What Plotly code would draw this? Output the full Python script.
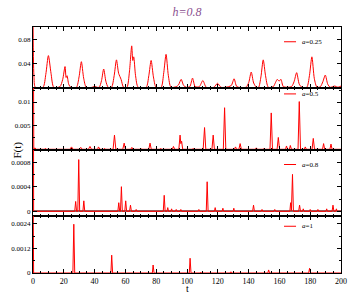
import plotly.graph_objects as go
from plotly.subplots import make_subplots

# a = 0.25
t_a025 = [0, 0.6, 1.5, 6.5, 8.3, 10, 11.7, 13.5, 17.5, 19.3, 20.8, 21.5, 22.1, 23.2, 24.5,
          28.2, 29.9, 31.4, 32.9, 34.6, 38.5, 40, 41.5, 43, 44.5, 45.9, 47.3, 48.8,
          51, 52.7, 54.2, 55.6, 57.2, 58.8, 61, 62.6, 64.1, 64.8, 65.4, 66.6, 68.3,
          73.5, 75.2, 76.7, 78.2, 79.9, 83.2, 84.9, 86.4, 87.9, 89.6,
          93, 94.5, 96.2, 97.8, 99.5, 101.8, 103.6, 105.3, 108, 110.3, 112.5,
          117.5, 119.8, 122, 125, 127, 128.8, 130.6, 132.4, 138.3, 140.1, 141.7, 143.3, 145.1,
          146.5, 148, 149.5, 151, 152.8, 156, 157.5, 158.6, 159.8, 161, 162.6,
          167.8, 169.5, 171.2, 172.9, 174.6, 177.8, 179.5, 181.1, 182.7, 184.4,
          186.6, 188.2, 189.8, 191.4, 193, 196, 198, 200]
f_a025 = [0.12, 0.02, 0.001, 0.001, 0.022, 0.053, 0.024, 0.001, 0.002, 0.014, 0.035, 0.017, 0.020, 0.006, 0.001,
          0.001, 0.018, 0.043, 0.016, 0.001, 0.001, 0.003, 0.001, 0.001, 0.012, 0.031, 0.011, 0.001,
          0.001, 0.020, 0.046, 0.024, 0.014, 0.001, 0.001, 0.026, 0.069, 0.045, 0.051, 0.020, 0.001,
          0.001, 0.020, 0.045, 0.018, 0.001, 0.001, 0.025, 0.055, 0.020, 0.001,
          0.002, 0.005, 0.014, 0.004, 0.001, 0.002, 0.016, 0.002, 0.002, 0.012, 0.001,
          0.001, 0.0075, 0.001, 0.001, 0.002, 0.004, 0.015, 0.002, 0.001, 0.009, 0.026, 0.008, 0.001,
          0.001, 0.018, 0.046, 0.020, 0.001, 0.002, 0.009, 0.014, 0.011, 0.014, 0.002,
          0.002, 0.010, 0.025, 0.006, 0.001, 0.001, 0.020, 0.051, 0.015, 0.001,
          0.002, 0.010, 0.021, 0.006, 0.001, 0.003, 0.001, 0.003]

# a = 0.5
t_a05 = [0, 0.5, 1.2, 2, 7.5, 8, 8.5, 24, 25, 26, 30, 31, 32, 36, 37, 38, 42, 42.5, 43.5,
         46, 46.5, 47, 52, 52.9, 53.8, 58.3, 59.2, 60, 63.5, 64.2, 65, 69.5, 70, 70.5,
         75.2, 76, 76.8, 82.5, 83, 83.5, 90.5, 91.2, 92, 94.7, 95.5, 96, 96.5, 97.2,
         103.5, 104, 104.5, 110.5, 111.4, 112.2, 116.2, 117, 117.8, 123.6, 124.4, 125.2,
         130.8, 131.5, 132.2, 133.7, 134.5, 135.3, 144.3, 145, 145.7, 149.5, 150, 150.5,
         153.9, 154.7, 155.5, 158.5, 159.3, 160.1, 164, 164.6, 165.3, 166.5, 167.1, 167.8,
         172.1, 172.9, 173.7, 176.2, 176.8, 177.5, 181.2, 182, 182.8, 188, 188.7, 189.4,
         192.8, 193.5, 194.2, 200]
f_a05 = [0.05, 0, 0.0003, 0, 0, 0.0002, 0, 0, 0.0005, 0, 0, 0.0004, 0, 0, 0.0006, 0, 0, 0.0005, 0,
         0, 0.0002, 0, 0, 0.003, 0, 0, 0.0013, 0, 0, 0.0004, 0, 0, 0.0002, 0,
         0, 0.0013, 0, 0, 0.0002, 0, 0, 0.0006, 0, 0, 0.003, 0.0012, 0.0017, 0,
         0, 0.0002, 0, 0, 0.0046, 0, 0, 0.003, 0, 0, 0.0088, 0,
         0, 0.0005, 0, 0, 0.0012, 0, 0, 0.0003, 0, 0, 0.0002, 0,
         0, 0.0077, 0, 0, 0.0025, 0, 0, 0.0007, 0, 0, 0.0008, 0,
         0, 0.0101, 0, 0, 0.0005, 0, 0, 0.0023, 0, 0, 0.0012, 0,
         0, 0.0011, 0, 0]

# a = 0.8
t_a08 = [0, 0.4, 27.1, 27.7, 28.3, 29.1, 29.7, 30.3, 32.4, 33, 33.6,
         55.1, 55.7, 56.3, 56.8, 57.4, 58, 59.6, 60.2, 60.8, 62.7, 63.3, 63.9, 66.5, 67, 67.5,
         84.6, 85.2, 85.8, 87, 87.5, 88, 89.5, 90, 90.5, 92.5, 93, 93.5, 95.5, 96, 96.5,
         107.2, 107.7, 108.2, 112.5, 113.1, 113.7, 117.8, 118.3, 118.8, 122.8, 123.3, 123.8,
         129.9, 130.4, 130.9, 142.6, 143.2, 143.8, 148.2, 148.7, 149.2, 156.5, 157, 157.5,
         166.8, 167.3, 167.8, 168.5, 169.1, 172.5, 173.1, 173.7, 175, 175.5, 176,
         179.5, 180, 180.5, 184.5, 185, 185.5, 190.2, 190.7, 191.2, 194.2, 194.8, 195.4,
         196.5, 197, 197.5, 200]
f_a08 = [0.01, 0, 0, 0.00016, 0, 0, 0.00084, 0, 0, 0.00017, 0,
         0, 0.00014, 0, 0, 0.0004, 0, 0, 0.00017, 0, 0, 0.0001, 0, 0, 0.00003, 0,
         0, 0.00026, 0, 0, 0.00006, 0, 0, 0.00004, 0, 0, 0.00003, 0, 0, 0.00003, 0,
         0, 0.00003, 0, 0, 0.00048, 0, 0, 0.00006, 0, 0, 0.00005, 0,
         0, 0.00005, 0, 0, 0.0001, 0, 0, 0.00003, 0, 0, 0.00003, 0,
         0, 0.00014, 0.00001, 0.0006, 0, 0, 0.0001, 0, 0, 0.00004, 0,
         0, 0.00003, 0, 0, 0.00003, 0, 0, 0.00004, 0, 0, 0.0001, 0,
         0, 0.00004, 0, 0]

# a = 1
t_a1 = [0, 0.4, 25.9, 26.5, 27.1, 50.6, 51.1, 51.7, 77.5, 78, 78.6, 101.5, 102, 102.6,
        108.5, 109, 109.5, 128, 128.5, 129, 152.5, 153, 153.6, 179, 179.6, 180.2, 200]
f_a1 = [0.005, 0, 0, 0.00238, 0, 0, 0.00087, 0, 0, 0.00039, 0, 0, 0.00072, 0,
        0, 0.00004, 0, 0, 0.00006, 0, 0, 0.00015, 0, 0, 0.00023, 0, 0]

labels = ["<i>a</i>=0.25", "<i>a</i>=0.5", "<i>a</i>=0.8", "<i>a</i>=1"]
y_ranges = [[0, 0.1], [-0.0001, 0.013], [-0.00007, 0.001], [0, 0.0028]]
y_ticks = [[0.04, 0.08], [0.005, 0.01], [0, 0.0004, 0.0008], [0, 0.0012, 0.0024]]
y_ticktext = [["0.04", "0.08"], ["0.005", "0.01"], ["0", "0.0004", "0.0008"], ["0", "0.0012", "0.0024"]]
y_minor = [0.02, 0.0025, 0.0002, 0.0006]
x_ticks = list(range(0, 201, 20))

series = [(t_a025, f_a025), (t_a05, f_a05), (t_a08, f_a08), (t_a1, f_a1)]

FONT = "Liberation Serif"
fig = make_subplots(rows=4, cols=1, shared_xaxes=True, vertical_spacing=0,
                    row_heights=[61, 62, 66, 57.5])

for i, (t, f) in enumerate(series):
    # the a=0.25 curve is smooth, the others are narrow spikes
    line = dict(color="#ff0000", width=1)
    if i == 0:
        line.update(shape="spline", smoothing=0.7)
    fig.add_trace(go.Scatter(x=t, y=f, mode="lines", line=line,
                             showlegend=False, hoverinfo="skip"), row=i + 1, col=1)
    fig.update_yaxes(range=y_ranges[i], tickvals=y_ticks[i], ticktext=y_ticktext[i],
                     minor=dict(dtick=y_minor[i], tick0=0, ticks="inside", ticklen=2,
                                tickcolor="black"),
                     zeroline=(i == 2), zerolinecolor="#8a6a6a", zerolinewidth=2,
                     row=i + 1, col=1)

fig.update_xaxes(range=[0, 200], tickvals=x_ticks, showgrid=False, zeroline=False,
                 ticks="inside", ticklen=4, tickcolor="black", showline=True,
                 linecolor="black", linewidth=1, mirror="allticks", automargin=False,
                 minor=dict(dtick=5, tick0=0, ticks="inside", ticklen=2, tickcolor="black"),
                 tickfont=dict(family=FONT, size=8, color="black"))
fig.update_yaxes(showgrid=False, ticks="inside", ticklen=4, tickcolor="black",
                 showline=True, linecolor="black", linewidth=1, mirror="allticks",
                 automargin=False, tickfont=dict(family=FONT, size=7, color="black"))

# legend entries drawn by hand, one per panel
legend_y = [0.940, 0.728, 0.441, 0.190]
for lab, ly in zip(labels, legend_y):
    fig.add_shape(type="line", xref="paper", yref="paper", x0=0.815, x1=0.854, y0=ly, y1=ly,
                  line=dict(color="#ff0000", width=1))
    fig.add_annotation(text=lab, xref="paper", yref="paper", x=0.866, y=ly, xanchor="left",
                       yanchor="middle", showarrow=False,
                       font=dict(family=FONT, size=7, color="black"))

fig.add_annotation(text="F(t)", xref="paper", yref="paper", x=-0.081, y=0.5, textangle=-90,
                   showarrow=False, font=dict(family=FONT, size=11, color="black"))
fig.add_annotation(text="t", xref="paper", yref="paper", x=0.5, y=-0.062, yanchor="middle",
                   showarrow=False, font=dict(family=FONT, size=10, color="black"))

fig.update_layout(
    width=349, height=293,
    margin=dict(l=33, r=8, t=27, b=19.5, autoexpand=False),
    paper_bgcolor="white", plot_bgcolor="white",
    title=dict(text="<i>h=0.8</i>", x=0.5, xref="paper", xanchor="center", y=0.96,
               yanchor="middle", automargin=False,
               font=dict(family=FONT, size=12, color="#8a4f8f")),
)

# page body has a default 8px margin; drop it so the figure sits at the top-left
fig.write_html("out.html", config={"displayModeBar": False},
               post_script="document.body.style.margin='0';")
